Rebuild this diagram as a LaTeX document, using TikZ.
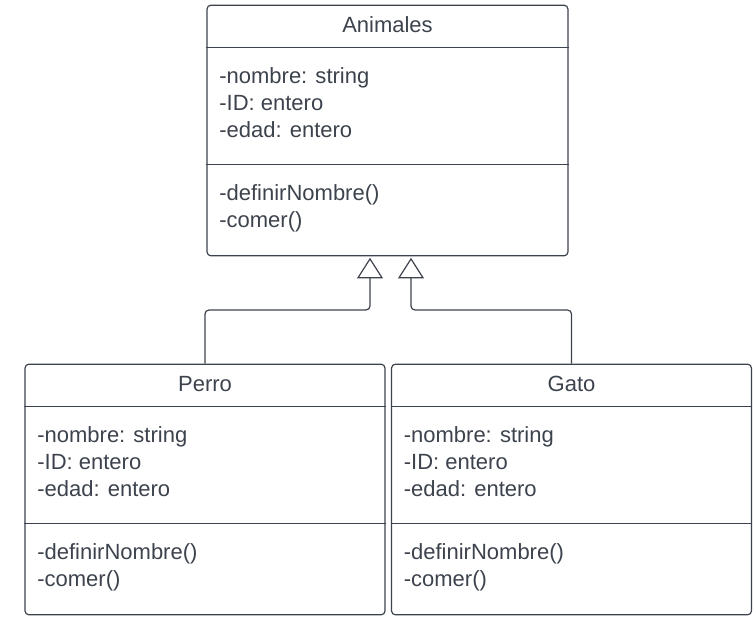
\documentclass[tikz,border=0pt]{standalone}
\usepackage{fontspec}
\setmainfont{Liberation Sans}
\usetikzlibrary{arrows.meta,calc}
\definecolor{umlgray}{HTML}{3D434D}
\tikzset{
  classbox/.style   ={rectangle, rounded corners=3pt, draw=umlgray, line width=.9pt,
    minimum width=270pt, minimum height=188pt, inner sep=0pt},
  class_title/.style={font=\fontsize{16.5}{20.25}\selectfont, text=umlgray, inner sep=0pt},
  members/.style    ={align=left, anchor=west, font=\fontsize{16.5}{20.25}\selectfont,
    text=umlgray, inner sep=0pt},
  sep_line/.style   ={draw=umlgray, line width=.9pt},
  inherit/.style    ={draw=umlgray, line width=.9pt, rounded corners=3pt,
    -{Triangle[open, length=15.5pt, width=19.5pt]}, shorten >=1pt}}

\begin{document}
\begin{tikzpicture}[x=.75pt, y=-.75pt]
\useasboundingbox (0,0) rectangle (756,623);
% superclass
\node[classbox, minimum width=270.75pt] (Animales) at (387.5,130.5) {};
% subclasses
\node[classbox] (Perro) at (205,489.5) {};
\node[classbox] (Gato)  at (571.5,489.5) {};
\foreach \cls/\name in {Animales/Animales, Perro/Perro, Gato/Gato}{
  \node[class_title] (\cls-title) at ([yshift=-15pt]\cls.north) {\name};
  \path[sep_line] ([yshift=-32.25pt]\cls.north west) -- ([yshift=-32.25pt]\cls.north east)
                  ([yshift=-120pt]\cls.north west) -- ([yshift=-120pt]\cls.north east);
  \node[members] (\cls-attr) at ([xshift=9.5pt, yshift=-73.9pt]\cls.north west)
    {-nombre: string\\-ID: entero\\-edad: entero};
  \node[members] (\cls-meth) at ([xshift=9.5pt, yshift=-153pt]\cls.north west)
    {-definirNombre()\\-comer()};
}
% generalisation
\coordinate (tipL) at ($(Animales.south)+(-17.5,0)$);
\coordinate (tipR) at ($(Animales.south)+(23.5,0)$);
\draw[inherit] (Perro.north) |- (tipL |- 0,310) -- (tipL);
\draw[inherit] (Gato.north)  |- (tipR |- 0,310) -- (tipR);
\end{tikzpicture}
\end{document}
